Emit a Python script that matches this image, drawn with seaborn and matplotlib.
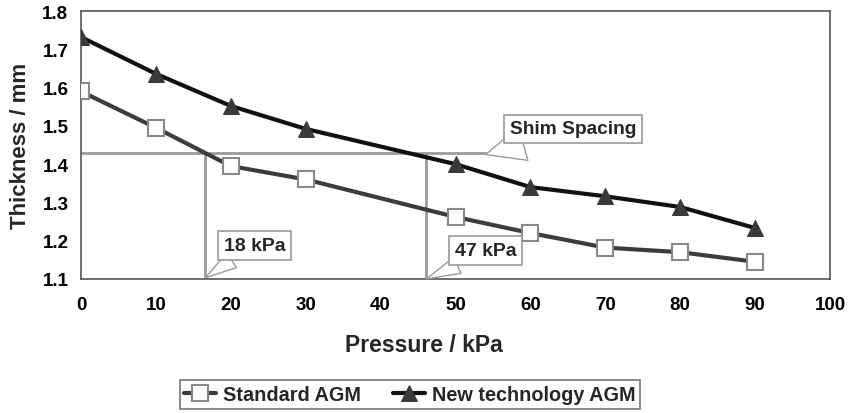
import numpy as np
import pandas as pd
import matplotlib
matplotlib.use("Agg")
import matplotlib.pyplot as plt
import seaborn as sns

# Data
pressure = [0, 10, 20, 30, 50, 60, 70, 80, 90]
standard_agm = [1.59, 1.495, 1.395, 1.36, 1.262, 1.22, 1.182, 1.17, 1.145]
new_tech_agm = [1.732, 1.636, 1.552, 1.492, 1.40, 1.34, 1.316, 1.288, 1.233]

shim_spacing = 1.43
shim_x_end = 54.3
crossing_std = 16.6
crossing_new = 46.1

x_ticks = list(range(0, 101, 10))
y_ticks = [1.1, 1.2, 1.3, 1.4, 1.5, 1.6, 1.7, 1.8]

df = pd.DataFrame({
    "Pressure": pressure * 2,
    "Thickness": standard_agm + new_tech_agm,
    "Series": ["Standard AGM"] * len(pressure) + ["New technology AGM"] * len(pressure),
})

sns.set_style("white")
plt.rcParams["font.family"] = ["Liberation Sans", "DejaVu Sans"]
plt.rcParams["font.weight"] = "bold"

fig = plt.figure(figsize=(8.54, 4.14), dpi=100)
ax = fig.add_axes([0.0948, 0.3237, 0.8772, 0.6473])

grey = "#9a9a9a"

# shim spacing guide lines
ax.plot([0, shim_x_end], [shim_spacing, shim_spacing], color=grey, lw=2, zorder=1)
ax.plot([crossing_std, crossing_std], [1.1, shim_spacing], color=grey, lw=2, zorder=1)
ax.plot([crossing_new, crossing_new], [1.1, shim_spacing], color=grey, lw=2, zorder=1)

sns.lineplot(data=df[df["Series"] == "Standard AGM"], x="Pressure", y="Thickness",
             ax=ax, color="#3c3c3c", lw=3, marker="s", markersize=11,
             markerfacecolor="white", markeredgecolor="#888888", markeredgewidth=1.5,
             label="Standard AGM", zorder=3)
sns.lineplot(data=df[df["Series"] == "New technology AGM"], x="Pressure", y="Thickness",
             ax=ax, color="#111111", lw=3, marker="^", markersize=12,
             markerfacecolor="#3a3a3a", markeredgecolor="#3a3a3a",
             label="New technology AGM", zorder=3)

ax.set_xlim(0, 100)
ax.set_ylim(1.1, 1.8)
ax.set_xticks(x_ticks)
ax.set_yticks(y_ticks)
ax.set_yticklabels([f"{v:.1f}" for v in y_ticks])
ax.tick_params(axis="both", direction="out", width=1, colors="#333333",
               labelsize=13.5, labelcolor="black")
ax.tick_params(axis="x", length=4, pad=8)
ax.tick_params(axis="y", length=3, pad=6)
for lab in ax.get_xticklabels() + ax.get_yticklabels():
    lab.set_fontweight("bold")
for s in ax.spines.values():
    s.set_color("#555555")
    s.set_linewidth(1.2)

ax.set_xlabel("Pressure / kPa", fontsize=16.5, fontweight="bold")
ax.xaxis.set_label_coords(0.458, -0.2)
ax.set_ylabel("Thickness / mm", fontsize=16, fontweight="bold", labelpad=8)

box = dict(boxstyle="square,pad=0.3", fc="white", ec=grey, lw=1.2)


def wedge(width):
    return dict(arrowstyle=f"wedge,tail_width={width},shrink_factor=0.5", fc="white",
                ec=grey, lw=1, shrinkA=0, shrinkB=0, relpos=(0.28, 0.0))


ax.annotate("Shim Spacing", xy=(54.0, 1.425), xytext=(65.7, 1.492),
            fontsize=13.8, fontweight="bold", bbox=box, arrowprops=wedge(1.8),
            ha="center", va="center", zorder=4)
ax.annotate("18 kPa", xy=(crossing_std, 1.103), xytext=(23.2, 1.188),
            fontsize=14, fontweight="bold", bbox=box, arrowprops=wedge(0.9),
            ha="center", va="center", zorder=4)
ax.annotate("47 kPa", xy=(crossing_new, 1.1), xytext=(54.0, 1.175),
            fontsize=14, fontweight="bold", bbox=box, arrowprops=wedge(0.9),
            ha="center", va="center", zorder=4)

handles, labels = ax.get_legend_handles_labels()
ax.get_legend().remove()
leg = fig.legend(handles, labels, loc="center", bbox_to_anchor=(0.48, 0.045), ncol=2,
                 frameon=True, fancybox=False, edgecolor="#555555", fontsize=14.3,
                 handlelength=1.6, columnspacing=1.6, borderpad=0.25, handletextpad=0.35)
for t in leg.get_texts():
    t.set_fontweight("bold")
leg.get_frame().set_linewidth(1.2)

fig.savefig("out.png", dpi=100)
